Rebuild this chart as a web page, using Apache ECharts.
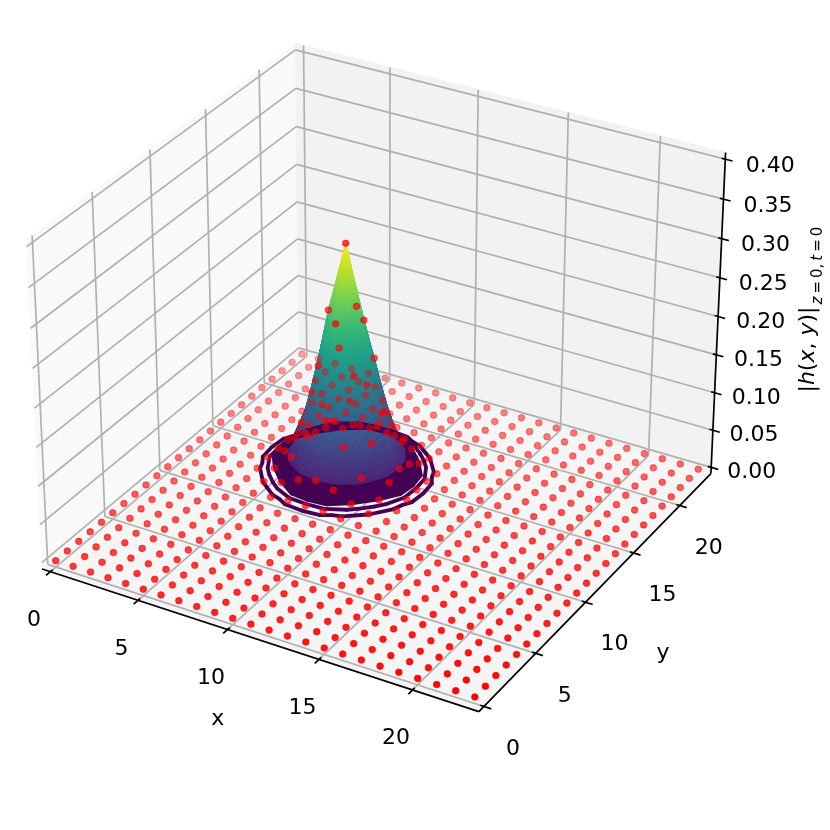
<!DOCTYPE html>
<html>
<head>
<meta charset="utf-8">
<style>html,body{margin:0;padding:0;background:#fff}#chart{width:830px;height:830px}</style>
<script src="https://cdn.jsdelivr.net/npm/echarts@6/dist/echarts.min.js"></script>
</head>
<body>
<div id="chart"></div>
<script>
// sample positions of the red points
const xValues = [0,1,2,3,4,5,6,7,8,9,10,11,12,13,14,15,16,17,18,19,20,21,22,23];
const yValues = [0,1,2,3,4,5,6,7,8,9,10,11,12,13,14,15,16,17,18,19,20,21,22,23];
const xTicks = [0,5,10,15,20];
const yTicks = [0,5,10,15,20];
const zTicks = [0,0.05,0.1,0.15,0.2,0.25,0.3,0.35,0.4];
const zTickLabels = ['0.00','0.05','0.10','0.15','0.20','0.25','0.30','0.35','0.40'];

// h, only the part that is not zero: x = 3..13, y = 9..19
const heightX = [3,4,5,6,7,8,9,10,11,12,13];
const heightY = [9,10,11,12,13,14,15,16,17,18,19];
const heightRows = [
  [0,0,0,0,0,0,0,0,0,0,0],
  [0,0,0,0.0018,0.0042,0.0048,0.0042,0.0018,0,0,0],
  [0,0,0.0032,0.009,0.02,0.026,0.02,0.009,0.0032,0,0],
  [0,0.0018,0.009,0.031,0.065,0.093,0.065,0.031,0.009,0.0018,0],
  [0,0.0042,0.02,0.065,0.147,0.208,0.147,0.065,0.02,0.0042,0],
  [0,0.0048,0.026,0.093,0.208,0.3,0.208,0.093,0.026,0.0048,0],
  [0,0.0042,0.02,0.065,0.147,0.208,0.147,0.065,0.02,0.0042,0],
  [0,0.0018,0.009,0.031,0.065,0.093,0.065,0.031,0.009,0.0018,0],
  [0,0,0.0032,0.009,0.02,0.026,0.02,0.009,0.0032,0,0],
  [0,0,0,0.0018,0.0042,0.0048,0.0042,0.0018,0,0,0],
  [0,0,0,0,0,0,0,0,0,0,0]
];
const contourLevels = [0.003,0.0062,0.0096,0.0118,0.014,0.016,0.018,0.02,0.022,0.024];
const viridis = ['#440154','#482878','#3e4a89','#31688e','#26828e','#1f9e89','#35b779','#6ece58','#b5de2b','#fde725'];

const FONT = '"DejaVu Sans"';
const SCALE = 4203, ORIGIN_X = 382.7, ORIGIN_Y = 361.45; // px per projected unit
const X_MAX = 23, Y_MAX = 23, Z_MAX = 0.4;
const DX = X_MAX / 48, DY = Y_MAX / 48, DZ = Z_MAX / 48;
const BOX_XY = 1.1428, BOX_Z = 0.8571, DIST = 10;
const SURFACE_CUT = 0.016;
const SUB = 12;

// same camera as the 3d axes: elev 30, azim -60
const camU = [0.866, 0.5, 0], camV = [-0.25, 0.433, 0.866], camW = [0.433, -0.75, 0.5];
function project(x, y, z) {
  const r = [(x / X_MAX - 0.5) * BOX_XY, (y / Y_MAX - 0.5) * BOX_XY, (z / Z_MAX - 0.5) * BOX_Z];
  const dot = a => a[0] * r[0] + a[1] * r[1] + a[2] * r[2];
  const d = DIST - dot(camW);
  return [dot(camU) / d, dot(camV) / d, d];
}
function flat(x, y, z) { const p = project(x, y, z); return [p[0], p[1]]; }

function heightAt(x, y) {
  const i = heightX.indexOf(x), j = heightY.indexOf(y);
  return i < 0 || j < 0 ? 0 : heightRows[j][i];
}
function colorOf(h) {
  const t = Math.min(1, h / 0.3) * (viridis.length - 1);
  const i = Math.min(viridis.length - 2, Math.floor(t));
  const f = t - i;
  const a = echarts.color.parse(viridis[i]), b = echarts.color.parse(viridis[i + 1]);
  return 'rgb(' + [0, 1, 2].map(k => Math.round(a[k] + (b[k] - a[k]) * f)).join(',') + ')';
}

// panes
const xa = -DX, xb = X_MAX + DX, ya = -DY, yb = Y_MAX + DY, za = -DZ, zb = Z_MAX + DZ;
const paneData = [
  [...flat(xa,ya,za), ...flat(xa,yb,za), ...flat(xa,yb,zb), ...flat(xa,ya,zb), 0],
  [...flat(xa,yb,za), ...flat(xb,yb,za), ...flat(xb,yb,zb), ...flat(xa,yb,zb), 1],
  [...flat(xa,ya,za), ...flat(xb,ya,za), ...flat(xb,yb,za), ...flat(xa,yb,za), 2]
];
const paneColors = ['#f9f9f9', '#f2f2f2', '#f5f5f5'];

// grid lines, axis lines, ticks
function seg(list, a, b) { list.push([...flat(a[0],a[1],a[2]), ...flat(b[0],b[1],b[2])]); }
const gridData = [], axisData = [];
xTicks.forEach(x => {
  seg(gridData, [x,ya,za], [x,yb,za]); seg(gridData, [x,yb,za], [x,yb,zb]);
  seg(axisData, [x,ya-0.2*Y_MAX/12,za], [x,ya+0.1*Y_MAX/12,za]);
});
yTicks.forEach(y => {
  seg(gridData, [xb,y,za], [xa,y,za]); seg(gridData, [xa,y,za], [xa,y,zb]);
  seg(axisData, [xb+0.2*X_MAX/12,y,za], [xb-0.1*X_MAX/12,y,za]);
});
zTicks.forEach(z => {
  seg(gridData, [xa,ya,z], [xa,yb,z]); seg(gridData, [xa,yb,z], [xb,yb,z]);
  seg(axisData, [xb+0.2*X_MAX/12,yb,z], [xb-0.1*X_MAX/12,yb,z]);
});
seg(axisData, [xa,ya,za], [xb,ya,za]);
seg(axisData, [xb,ya,za], [xb,yb,za]);
seg(axisData, [xb,yb,za], [xb,yb,zb]);

// surface: table cells split into small facets for a smooth colour ramp
const surfaceData = [];
for (let j = 0; j < heightY.length - 1; j++) {
  for (let i = 0; i < heightX.length - 1; i++) {
    const h00 = heightRows[j][i], h10 = heightRows[j][i+1], h01 = heightRows[j+1][i], h11 = heightRows[j+1][i+1];
    const hAt = (s, t) => h00*(1-s)*(1-t) + h10*s*(1-t) + h01*(1-s)*t + h11*s*t;
    for (let a = 0; a < SUB; a++) {
      for (let b = 0; b < SUB; b++) {
        const corners = [[a,b],[a+1,b],[a+1,b+1],[a,b+1]].map(c => {
          const s = c[0]/SUB, t = c[1]/SUB, h = hAt(s, t);
          return [heightX[i]+s, heightY[j]+t, h];
        });
        const mean = (corners[0][2]+corners[1][2]+corners[2][2]+corners[3][2]) / 4;
        if (mean < SURFACE_CUT) continue;
        const row = [];
        corners.forEach(c => row.push(...flat(c[0], c[1], c[2])));
        const mid = project(heightX[i]+(a+0.5)/SUB, heightY[j]+(b+0.5)/SUB, mean);
        row.push(mean, mid[2]);
        surfaceData.push(row);
      }
    }
  }
}
surfaceData.sort((p, q) => q[9] - p[9]);

// contour segments by marching squares over the same table
const contourData = [];
contourLevels.forEach(level => {
  for (let j = 0; j < heightY.length - 1; j++) {
    for (let i = 0; i < heightX.length - 1; i++) {
      const c = [[i,j],[i+1,j],[i+1,j+1],[i,j+1]];
      const hits = [];
      for (let k = 0; k < 4; k++) {
        const p = c[k], q = c[(k+1)%4];
        const hp = heightRows[p[1]][p[0]], hq = heightRows[q[1]][q[0]];
        if ((hp < level) !== (hq < level)) {
          const f = (level - hp) / (hq - hp);
          hits.push([heightX[p[0]] + (heightX[q[0]]-heightX[p[0]])*f, heightY[p[1]] + (heightY[q[1]]-heightY[p[1]])*f]);
        }
      }
      if (hits.length >= 2) seg(contourData, [hits[0][0],hits[0][1],level], [hits[1][0],hits[1][1],level]);
      if (hits.length === 4) seg(contourData, [hits[2][0],hits[2][1],level], [hits[3][0],hits[3][1],level]);
    }
  }
});

// red points, faded with depth
const points = [];
yValues.forEach(y => xValues.forEach(x => points.push(project(x, y, heightAt(x, y)))));
const dMin = Math.min(...points.map(p => p[2])), dMax = Math.max(...points.map(p => p[2]));
points.sort((p, q) => q[2] - p[2]);
const pointData = points.map(p => ({
  value: [p[0], p[1]],
  itemStyle: { opacity: 1 - 0.65 * (p[2] - dMin) / (dMax - dMin) }
}));

function polygonSeries(data, z, pick) {
  return {
    type: 'custom', coordinateSystem: 'cartesian2d', silent: true, clip: false, z, data,
    renderItem(params, api) {
      const pts = [0, 2, 4, 6].map(k => api.coord([api.value(k), api.value(k + 1)]));
      return { type: 'polygon', shape: { points: pts }, style: pick(api.value(8)) };
    }
  };
}
function lineSeries(data, z, color, width, cap) {
  return {
    type: 'custom', coordinateSystem: 'cartesian2d', silent: true, clip: false, z, data,
    renderItem(params, api) {
      const a = api.coord([api.value(0), api.value(1)]), b = api.coord([api.value(2), api.value(3)]);
      return { type: 'line', shape: { x1: a[0], y1: a[1], x2: b[0], y2: b[1] },
        style: { stroke: color, lineWidth: width, lineCap: cap } };
    }
  };
}
function textSeries(data, labels, dx, dy, size) {
  return {
    type: 'custom', coordinateSystem: 'cartesian2d', silent: true, clip: false, z: 20, data,
    renderItem(params, api) {
      const a = api.coord([api.value(0), api.value(1)]);
      const i = params.dataIndex;
      return { type: 'text',
        x: a[0] + (typeof dx === 'function' ? dx(i) : dx),
        y: a[1] + (typeof dy === 'function' ? dy(i) : dy),
        style: { text: labels[i], fill: '#000', align: 'center', verticalAlign: 'middle',
          font: size + 'px ' + FONT } };
    }
  };
}

const chart = echarts.init(document.getElementById('chart'), null, { renderer: 'canvas' });
chart.setOption({
  animation: false,
  backgroundColor: '#fff',
  grid: { left: 0, right: 0, top: 0, bottom: 0 },
  xAxis: { type: 'value', show: false, min: -ORIGIN_X / SCALE, max: (830 - ORIGIN_X) / SCALE },
  yAxis: { type: 'value', show: false, min: (ORIGIN_Y - 830) / SCALE, max: ORIGIN_Y / SCALE },
  series: [
    polygonSeries(paneData, 1, v => ({ fill: paneColors[v], stroke: paneColors[v], lineWidth: 1 })),
    lineSeries(gridData, 2, '#b0b0b0', 1.7, 'butt'),
    lineSeries(axisData, 3, '#000', 1.7, 'butt'),
    polygonSeries(surfaceData, 4, v => ({ fill: colorOf(v), stroke: colorOf(v), lineWidth: 0.7 })),
    lineSeries(contourData, 5, '#440154', 3.8, 'round'),
    {
      type: 'scatter', silent: true, clip: false, z: 6, symbol: 'circle', symbolSize: 6.6,
      itemStyle: { color: '#ff0000', borderColor: '#ff0000', borderWidth: 0.8 },
      data: pointData
    },
    textSeries(xTicks.map(x => flat(x, ya, za)), xTicks.map(String), -16.5, 48.5, 22),
    textSeries(yTicks.map(y => flat(xb, y, za)), yTicks.map(String), 29, 42.5, 22),
    textSeries(zTicks.map(z => flat(xb, yb, z)), zTickLabels, i => 40.5 + i * 0.56, i => 5 + i * 0.25, 22),
    textSeries([flat(X_MAX / 2, ya, za)], ['x'], -37, 81, 22),
    textSeries([flat(xb, Y_MAX / 2, za)], ['y'], 63, 66, 22),
    {
      type: 'custom', coordinateSystem: 'cartesian2d', silent: true, clip: false, z: 20,
      data: [flat(xb, yb, Z_MAX / 2)],
      renderItem(params, api) {
        const a = api.coord([api.value(0), api.value(1)]);
        return { type: 'group', children: [
          { type: 'text', x: a[0] + 90, y: a[1] + 33, rotation: Math.PI / 2,
            style: { text: '|{i|h}({i|x}, {i|y})|', fill: '#000', align: 'center', verticalAlign: 'middle',
              font: '22px ' + FONT, rich: { i: { fontStyle: 'italic', fontFamily: 'DejaVu Sans', fontSize: 22 } } } },
          { type: 'text', x: a[0] + 100, y: a[1] - 51, rotation: Math.PI / 2,
            style: { text: '{i|z}\u2009=\u20090,\u2009{i|t}\u2009=\u20090', fill: '#000', align: 'center', verticalAlign: 'middle',
              font: '15px ' + FONT, rich: { i: { fontStyle: 'italic', fontFamily: 'DejaVu Sans', fontSize: 15 } } } }
        ] };
      }
    }
  ]
});
</script>
</body>
</html>
